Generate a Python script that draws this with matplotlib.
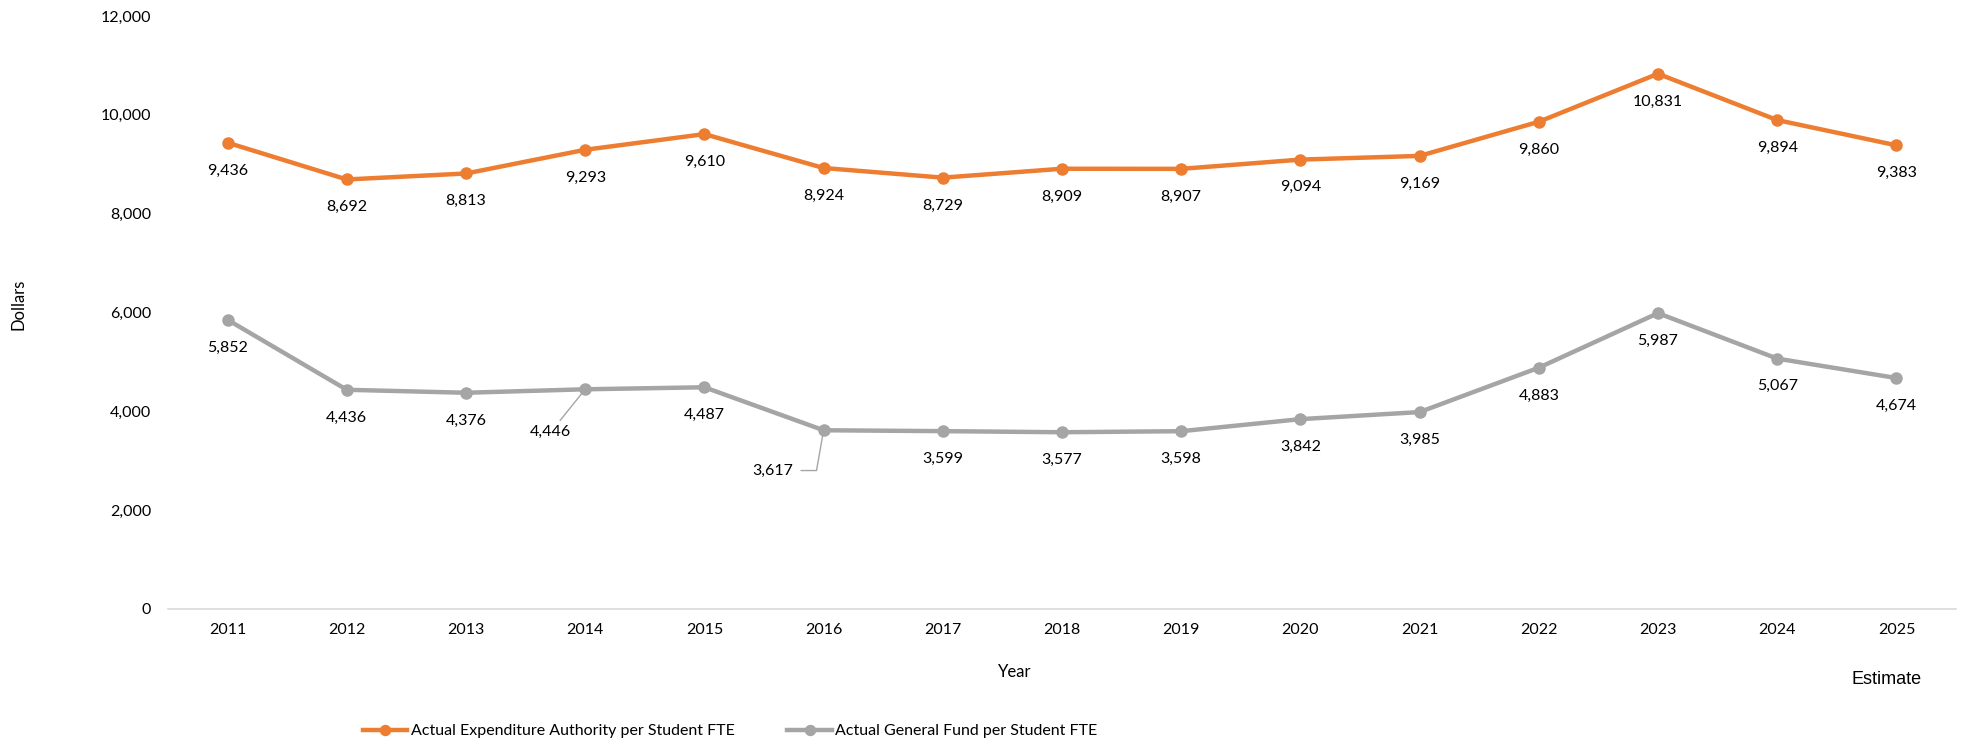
import numpy as np
import matplotlib.pyplot as plt

years = ['2011', '2012', '2013', '2014', '2015', '2016', '2017', '2018',
         '2019', '2020', '2021', '2022', '2023', '2024', '2025']
expenditure = [9436, 8692, 8813, 9293, 9610, 8924, 8729, 8909, 8907,
               9094, 9169, 9860, 10831, 9894, 9383]
general_fund = [5852, 4436, 4376, 4446, 4487, 3617, 3599, 3577, 3598,
                3842, 3985, 4883, 5987, 5067, 4674]

orange = '#ED7D31'
grey = '#A5A5A5'

plt.rcParams['font.family'] = ['Lato', 'DejaVu Sans']
fs = 11.5

fig = plt.figure(figsize=(19.65, 7.51), dpi=100)
W, H = 1965, 751
ax = fig.add_axes([168 / W, 1 - 609 / H, (1956 - 168) / W, (609 - 16) / H])

x = np.arange(len(years))
ax.plot(x, expenditure, color=orange, lw=3.2, marker='o', ms=8,
        label='Actual Expenditure Authority per Student FTE')
ax.plot(x, general_fund, color=grey, lw=3.2, marker='o', ms=8,
        label='Actual General Fund per Student FTE')

ax.set_xlim(-0.5, len(years) - 0.5)
ax.set_ylim(0, 12000)
ax.set_xticks(x)
ax.set_xticklabels(years)
ax.set_yticks(np.arange(0, 12001, 2000))
ax.set_yticklabels([f'{v:,}' for v in range(0, 12001, 2000)])
ax.tick_params(axis='both', length=0, labelsize=fs, colors='#000000')
ax.tick_params(axis='y', pad=12)
ax.tick_params(axis='x', pad=10)
for s in ['top', 'right', 'left']:
    ax.spines[s].set_visible(False)
ax.spines['bottom'].set_color('#D9D9D9')
ax.spines['bottom'].set_linewidth(1.2)

# data labels below the points
for i, v in enumerate(expenditure):
    ax.annotate(f'{v:,}', (i, v), xytext=(0, -20), textcoords='offset points',
                ha='center', va='center', fontsize=fs)

for i, v in enumerate(general_fund):
    if years[i] == '2014':
        ax.annotate(f'{v:,}', (i, v), xytext=(-25, -31), textcoords='offset points',
                    ha='center', va='center', fontsize=fs,
                    arrowprops=dict(arrowstyle='-', color=grey, lw=1,
                                    shrinkA=2, shrinkB=4))
    elif years[i] == '2016':
        ax.annotate(f'{v:,}', (i, v), xytext=(-37, -29), textcoords='offset points',
                    ha='center', va='center', fontsize=fs,
                    arrowprops=dict(arrowstyle='-', color=grey, lw=1,
                                    shrinkA=4, shrinkB=4,
                                    connectionstyle='angle,angleA=0,angleB=80,rad=0'))
    else:
        ax.annotate(f'{v:,}', (i, v), xytext=(0, -20), textcoords='offset points',
                    ha='center', va='center', fontsize=fs)

fig.text(19 / W, 1 - 304 / H, 'Dollars', rotation=90, ha='center', va='center', fontsize=fs + 0.5)
fig.text(1015 / W, 1 - 672 / H, 'Year', ha='center', va='center', fontsize=fs + 0.5)
fig.text(1887 / W, 1 - 679 / H, 'Estimate', ha='center', va='center', fontsize=13,
         family=['Liberation Sans', 'DejaVu Sans'])

fig.legend(loc='center', bbox_to_anchor=(730 / W, 1 - 731 / H), ncol=2, frameon=False,
           fontsize=fs, handlelength=2.8, handletextpad=0.2, columnspacing=3.3,
           markerscale=0.9)

fig.savefig('out.png', dpi=100)
